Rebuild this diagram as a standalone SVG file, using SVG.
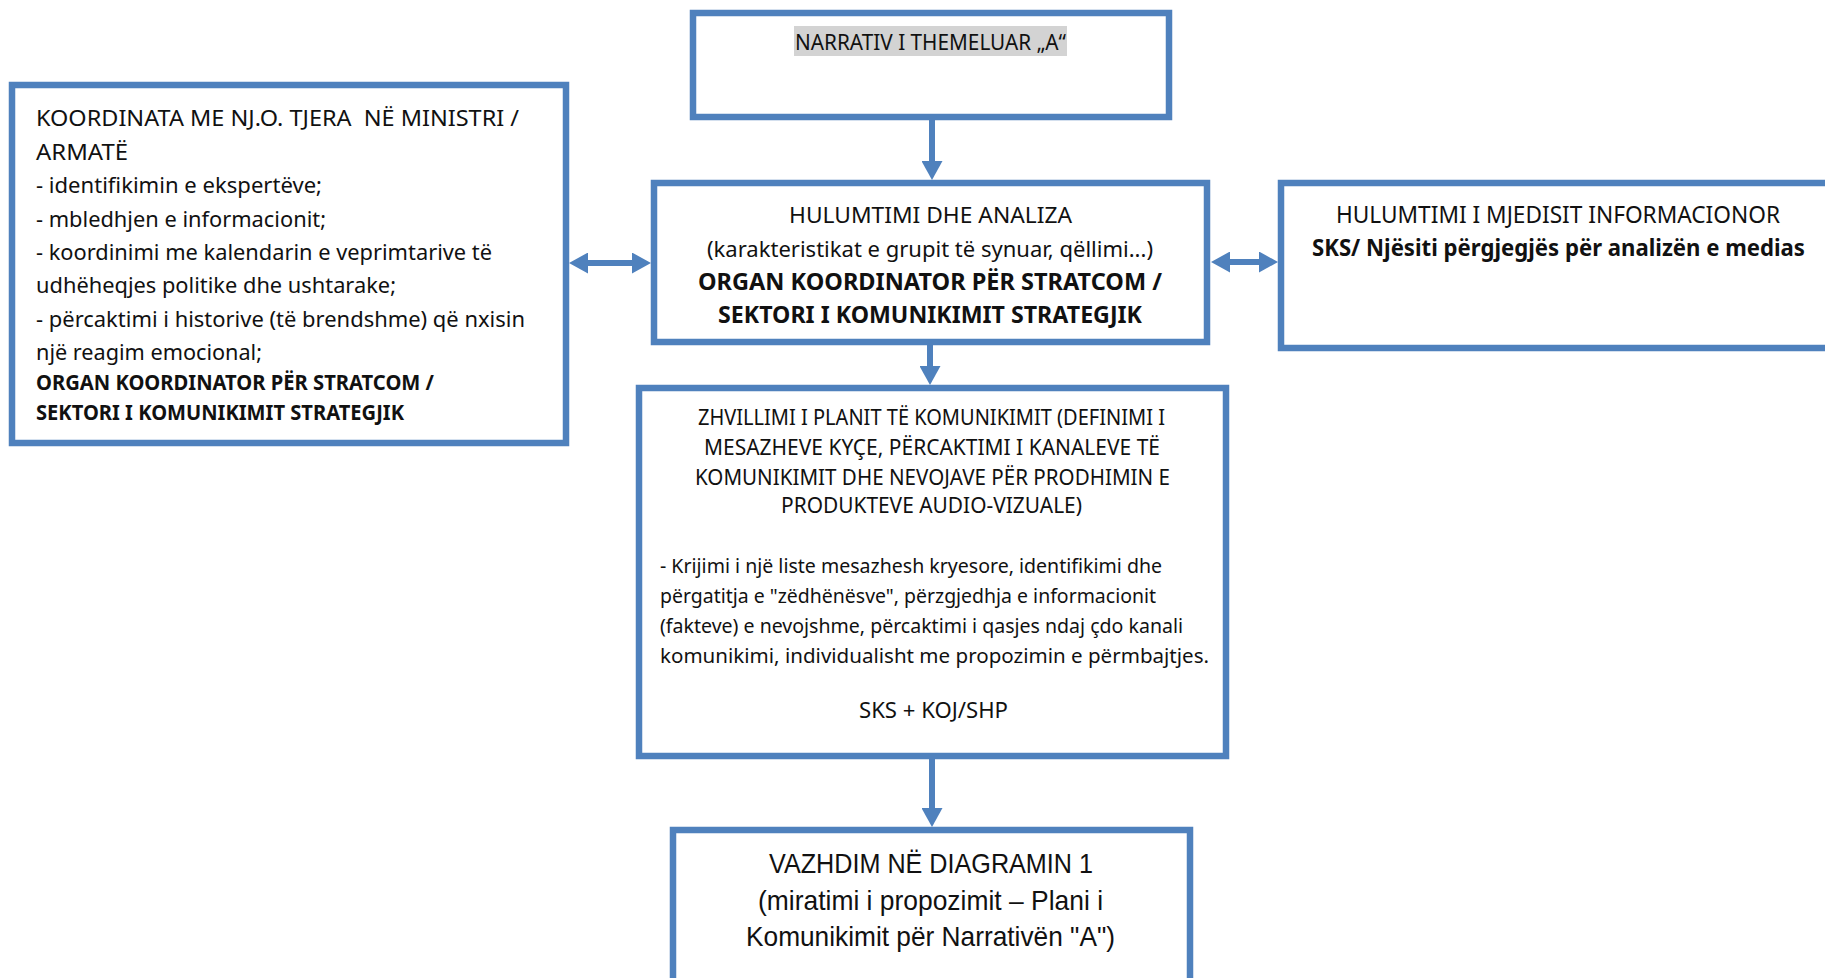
<svg xmlns="http://www.w3.org/2000/svg" width="1825" height="978" viewBox="0 0 1825 978">
<defs>
<style>
.box{fill:#ffffff;stroke:#4f81bd;stroke-width:6.5}
.con{stroke:#4f81bd;stroke-width:6;fill:none}
text{font-family:"Noto Sans","DejaVu Sans",sans-serif;fill:#111111}
.r22{font-size:22px}
.r21{font-size:21px}
.r20{font-size:20px}
.b21{font-size:21px;font-weight:bold}
.b23{font-size:23px;font-weight:bold}
.r23{font-size:23px}
.r28{font-size:28px;font-family:"Liberation Sans","Noto Sans",sans-serif}
</style>
<marker id="ah" markerUnits="userSpaceOnUse" markerWidth="19" markerHeight="21" viewBox="0 0 19 21" refX="7" refY="10.5" orient="auto-start-reverse">
<path d="M0,0 L19,10.5 L0,21 z" fill="#4f81bd"/>
</marker>
</defs>
<rect width="1825" height="978" fill="#ffffff"/>

<g id="connectors">
<line class="con" x1="932" y1="119" x2="932" y2="168" marker-end="url(#ah)"/>
<line class="con" x1="930" y1="344" x2="930" y2="373" marker-end="url(#ah)"/>
<line class="con" x1="932" y1="758" x2="932" y2="815" marker-end="url(#ah)"/>
<line class="con" x1="581" y1="263" x2="639" y2="263" marker-start="url(#ah)" marker-end="url(#ah)"/>
<line class="con" x1="1223" y1="262" x2="1266" y2="262" marker-start="url(#ah)" marker-end="url(#ah)"/>
</g>

<g id="node-narrativ">
<rect class="box" x="693" y="13" width="476" height="104"/>
<rect x="794" y="26" width="273" height="30" fill="#d3d3d3"/>
<text class="r22" x="795" y="50" textLength="271" lengthAdjust="spacingAndGlyphs">NARRATIV I THEMELUAR „A“</text>
</g>

<g id="node-koordinata">
<rect class="box" x="12" y="85" width="554" height="358"/>
<text class="r22" x="36" y="126" textLength="483" lengthAdjust="spacingAndGlyphs" xml:space="preserve">KOORDINATA ME NJ.O. TJERA  NË MINISTRI /</text>
<text class="r22" x="36" y="160" textLength="92" lengthAdjust="spacingAndGlyphs">ARMATË</text>
<text class="r22" x="36" y="193" textLength="286" lengthAdjust="spacingAndGlyphs">- identifikimin e ekspertëve;</text>
<text class="r22" x="36" y="227" textLength="290" lengthAdjust="spacingAndGlyphs">- mbledhjen e informacionit;</text>
<text class="r22" x="36" y="260" textLength="456" lengthAdjust="spacingAndGlyphs">- koordinimi me kalendarin e veprimtarive të</text>
<text class="r22" x="36" y="293" textLength="360" lengthAdjust="spacingAndGlyphs">udhëheqjes politike dhe ushtarake;</text>
<text class="r22" x="36" y="327" textLength="489" lengthAdjust="spacingAndGlyphs">- përcaktimi i historive (të brendshme) që nxisin</text>
<text class="r22" x="36" y="360" textLength="226" lengthAdjust="spacingAndGlyphs">një reagim emocional;</text>
<text class="b21" x="36" y="390" textLength="398" lengthAdjust="spacingAndGlyphs">ORGAN KOORDINATOR PËR STRATCOM /</text>
<text class="b21" x="36" y="420" textLength="368" lengthAdjust="spacingAndGlyphs">SEKTORI I KOMUNIKIMIT STRATEGJIK</text>
</g>

<g id="node-hulumtimi">
<rect class="box" x="654" y="183" width="553" height="159"/>
<text class="r22" x="789" y="223" textLength="283" lengthAdjust="spacingAndGlyphs">HULUMTIMI DHE ANALIZA</text>
<text class="r22" x="707" y="257" textLength="446" lengthAdjust="spacingAndGlyphs">(karakteristikat e grupit të synuar, qëllimi...)</text>
<text class="b23" x="698" y="290" textLength="464" lengthAdjust="spacingAndGlyphs">ORGAN KOORDINATOR PËR STRATCOM /</text>
<text class="b23" x="718" y="323" textLength="424" lengthAdjust="spacingAndGlyphs">SEKTORI I KOMUNIKIMIT STRATEGJIK</text>
</g>

<g id="node-mjedisi">
<rect class="box" x="1281" y="183" width="580" height="165"/>
<text class="r23" x="1336" y="223" textLength="444" lengthAdjust="spacingAndGlyphs">HULUMTIMI I MJEDISIT INFORMACIONOR</text>
<text class="b23" x="1312" y="256" textLength="493" lengthAdjust="spacingAndGlyphs">SKS/ Njësiti përgjegjës për analizën e medias</text>
</g>

<g id="node-plani">
<rect class="box" x="639" y="388" width="587" height="368"/>
<text class="r21" x="698" y="425" textLength="467" lengthAdjust="spacingAndGlyphs">ZHVILLIMI I PLANIT TË KOMUNIKIMIT (DEFINIMI I</text>
<text class="r21" x="704" y="455" textLength="456" lengthAdjust="spacingAndGlyphs">MESAZHEVE KYÇE, PËRCAKTIMI I KANALEVE TË</text>
<text class="r21" x="695" y="485" textLength="475" lengthAdjust="spacingAndGlyphs">KOMUNIKIMIT DHE NEVOJAVE PËR PRODHIMIN E</text>
<text class="r21" x="781" y="513" textLength="301" lengthAdjust="spacingAndGlyphs">PRODUKTEVE AUDIO-VIZUALE)</text>
<text class="r20" x="660" y="573" textLength="502" lengthAdjust="spacingAndGlyphs">- Krijimi i një liste mesazhesh kryesore, identifikimi dhe</text>
<text class="r20" x="660" y="603" textLength="496" lengthAdjust="spacingAndGlyphs">përgatitja e "zëdhënësve", përzgjedhja e informacionit</text>
<text class="r20" x="660" y="633" textLength="523" lengthAdjust="spacingAndGlyphs">(fakteve) e nevojshme, përcaktimi i qasjes ndaj çdo kanali</text>
<text class="r20" x="660" y="663" textLength="549" lengthAdjust="spacingAndGlyphs">komunikimi, individualisht me propozimin e përmbajtjes.</text>
<text class="r21" x="859" y="718" textLength="149" lengthAdjust="spacingAndGlyphs">SKS + KOJ/SHP</text>
</g>

<g id="node-vazhdim">
<rect class="box" x="673" y="830" width="517" height="170"/>
<text class="r28" x="769" y="873" textLength="324" lengthAdjust="spacingAndGlyphs">VAZHDIM NË DIAGRAMIN 1</text>
<text class="r28" x="758" y="910" textLength="345" lengthAdjust="spacingAndGlyphs">(miratimi i propozimit – Plani i</text>
<text class="r28" x="746" y="946" textLength="369" lengthAdjust="spacingAndGlyphs">Komunikimit për Narrativën "A")</text>
</g>
</svg>
